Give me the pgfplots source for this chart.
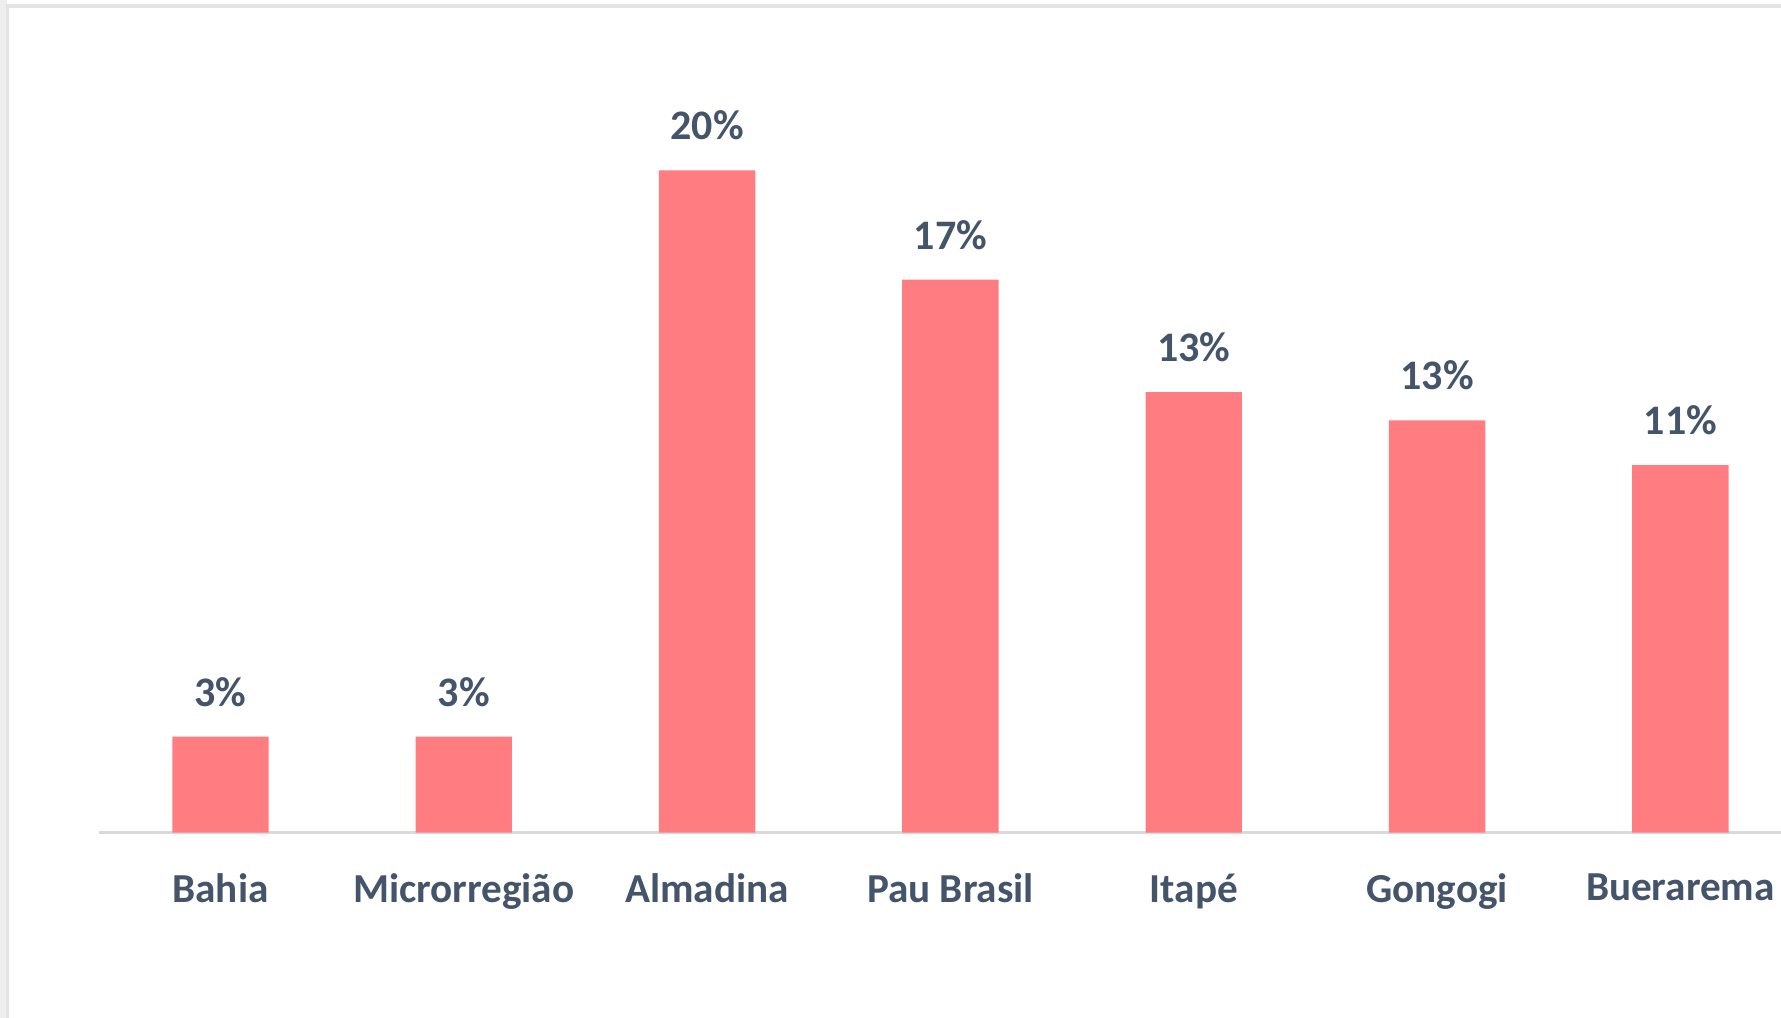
\documentclass[border=0pt]{standalone}
\usepackage{pgfplots}
\pgfplotsset{compat=1.18}
\usepackage{fontspec}
\setmainfont{Carlito}
\definecolor{barred}{HTML}{FF7C80}
\definecolor{txt}{HTML}{44546A}
\definecolor{frame}{HTML}{E3E3E3}
\begin{document}
\begin{tikzpicture}
\useasboundingbox (0,0) rectangle (445.25pt,254.5pt);
\fill[frame!60] (0,0) rectangle (1.8pt,254.5pt);
\draw[frame, line width=0.8pt] (1.8pt,0) -- (1.8pt,253pt) -- (445.25pt,253pt);
\begin{axis}[
  at={(24.7pt,46.35pt)}, anchor=south west,
  x=60.83pt, y=8.2775pt,
  xmin=-0.5, xmax=6.42, ymin=0, ymax=25,
  axis x line*=bottom, axis y line=none,
  x axis line style={draw=black!15, line width=0.8pt, -},
  xtick=data,
  xticklabels={Bahia,Microrregião,Almadina,Pau Brasil,Itapé,Gongogi,Buerarema},
  major tick length=0pt,
  xticklabel style={font=\fontsize{10.3}{12}\selectfont\bfseries, text=txt, yshift=-6.8pt},
  ybar, bar width=24.1pt,
  point meta=explicit symbolic,
  nodes near coords,
  nodes near coords style={font=\fontsize{10.5}{12}\selectfont\bfseries, text=txt, anchor=south, yshift=4pt},
  clip=false,
]
\addplot[fill=barred, draw=none] coordinates {
  (0,2.9) [3\%] (1,2.9) [3\%] (2,20.0) [20\%] (3,16.7) [17\%] (4,13.3) [13\%] (5,12.45) [13\%] (6,11.1) [11\%]
};
\end{axis}
\end{tikzpicture}
\end{document}
